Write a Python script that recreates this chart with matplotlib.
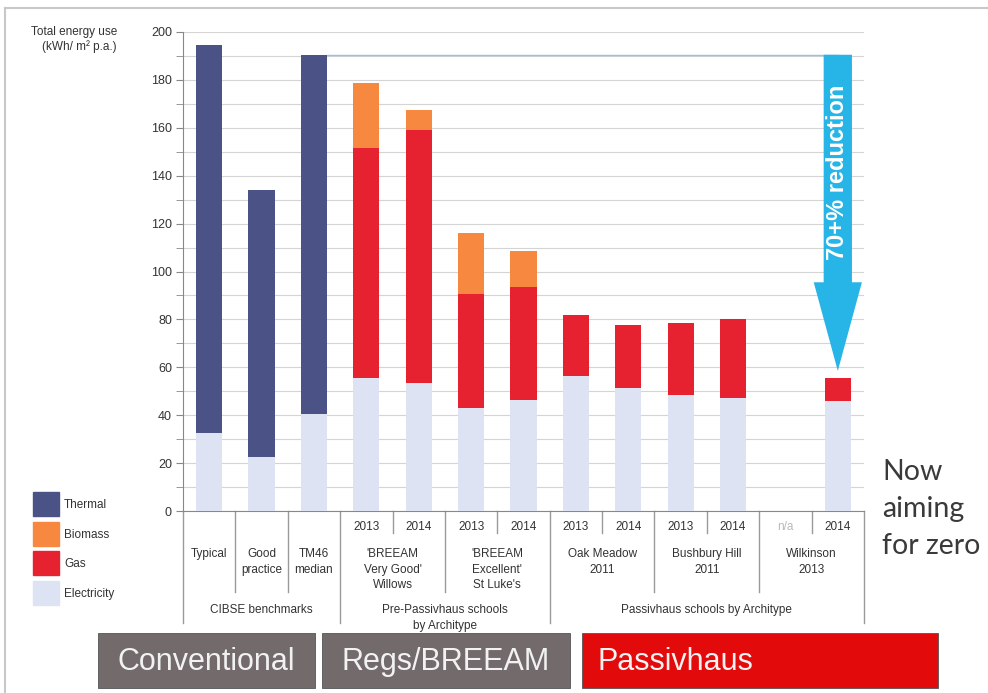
import numpy as np
import matplotlib
matplotlib.use("Agg")
import matplotlib.pyplot as plt
from matplotlib import patches
from matplotlib.transforms import blended_transform_factory

plt.rcParams["font.family"] = ["Liberation Sans", "DejaVu Sans"]

# bar slots, left to right (the n/a slot has no bar)
years = ["", "", "", "2013", "2014", "2013", "2014", "2013", "2014", "2013", "2014", "n/a", "2014"]
electricity = [32.5, 22.5, 40.5, 55.5, 53.5, 43, 46.5, 56.5, 51.5, 48.5, 47, 0, 46]
gas = [0, 0, 0, 96, 105.5, 47.5, 47, 25.5, 26, 30, 33, 0, 9.5]
biomass = [0, 0, 0, 27, 8.5, 25.5, 15, 0, 0, 0, 0, 0, 0]
thermal = [162, 111.5, 150, 0, 0, 0, 0, 0, 0, 0, 0, 0, 0]

# (label, first slot, last slot)
schools = [("Typical", 0, 0), ("Good\npractice", 1, 1), ("TM46\nmedian", 2, 2),
           ("'BREEAM\nVery Good'\nWillows", 3, 4), ("'BREEAM\nExcellent'\nSt Luke's", 5, 6),
           ("Oak Meadow\n2011", 7, 8), ("Bushbury Hill\n2011", 9, 10), ("Wilkinson\n2013", 11, 12)]
groups = [("CIBSE benchmarks", 0, 2), ("Pre-Passivhaus schools\nby Architype", 3, 6),
          ("Passivhaus schools by Architype", 7, 12)]

series = [("Thermal", "#4b5386"), ("Biomass", "#f6883f"), ("Gas", "#e62231"), ("Electricity", "#dde3f3")]

W, H = 988, 693
TXT = "#333333"


def fx(px):
    return px / W


def fy(py):
    return 1 - py / H


fig = plt.figure(figsize=(W / 100, H / 100), dpi=100)
ax = fig.add_axes([fx(183), fy(511), fx(864 - 183), (511 - 32) / H])

x = np.arange(len(years))
bw = 0.5
bottom = np.zeros(len(x))
for vals, (name, col) in zip([electricity, thermal, gas, biomass],
                             [series[3], series[0], series[2], series[1]]):
    v = np.array(vals, dtype=float)
    m = v > 0
    ax.bar(x[m], v[m], bw, bottom=bottom[m], color=col, zorder=3)
    bottom += v

ax.set_xlim(-0.5, len(x) - 0.5)
ax.set_ylim(0, 200)
ax.set_yticks(np.arange(0, 201, 20))
ax.set_yticks(np.arange(0, 201, 10), minor=True)
ax.grid(axis="y", which="both", color="#d4d4d4", lw=0.8, zorder=0)
ax.set_xticks([])
ax.tick_params(axis="y", which="both", direction="out", length=5, color="#888888",
               labelsize=9, labelcolor=TXT, pad=3)
for s in ["top", "right"]:
    ax.spines[s].set_visible(False)
ax.spines["left"].set_color("#888888")
ax.spines["bottom"].set_color("#888888")

# reference line from TM46 median and the reduction arrow
totals = bottom
tm46 = totals[2]
last = len(x) - 1
ax.plot([2 + bw / 2, last], [tm46, tm46], color="#9cc0da", lw=1, zorder=2)
tip = totals[last] + 3
arrow = patches.FancyArrow(last, tm46, 0, tip - tm46, width=0.54, head_width=0.92,
                           head_length=37, length_includes_head=True,
                           color="#27b4e7", lw=0, zorder=4)
ax.add_patch(arrow)
ax.text(last, 141.5, "70+% reduction", rotation=90, ha="center", va="center",
        color="white", fontsize=17, fontweight="bold", zorder=5)

# category table under the axis
bt = blended_transform_factory(ax.transData, fig.transFigure)
for i, yr in enumerate(years):
    if yr:
        ax.text(i, fy(527), yr, transform=bt, ha="center", va="center", fontsize=8.5,
                color="#bbbbbb" if yr == "n/a" else TXT)
for label, a, b in schools:
    ax.text((a + b) / 2, fy(548), label, transform=bt, ha="center", va="top",
            fontsize=8.5, color=TXT, linespacing=1.4)
for label, a, b in groups:
    ax.text((a + b) / 2, fy(604), label, transform=bt, ha="center", va="top",
            fontsize=8.5, color=TXT, linespacing=1.4)

div_long = [-0.5, 2.5, 6.5, 12.5]
div_mid = [0.5, 1.5, 4.5, 8.5, 10.5]
div_short = [3.5, 5.5, 7.5, 9.5, 11.5]
for xs, end in [(div_long, 623), (div_mid, 592), (div_short, 533)]:
    for d in xs:
        ax.plot([d, d], [fy(511), fy(end)], transform=bt, color="#9a9a9a", lw=1,
                clip_on=False)

# y axis title
fig.text(fx(117), fy(32), "Total energy use", ha="right", va="center", fontsize=8.5, color=TXT)
fig.text(fx(117), fy(47), "(kWh/ m\u00b2 p.a.)", ha="right", va="center", fontsize=8.5, color=TXT)

# legend
for k, (name, col) in enumerate(series):
    top = 492 + k * 29.5
    fig.patches.append(patches.Rectangle((fx(33), fy(top + 24)), fx(26), 24 / H,
                                         transform=fig.transFigure, color=col))
    fig.text(fx(64), fy(top + 13), name, ha="left", va="center", fontsize=8.5, color=TXT)

# side note
fig.text(fx(882), fy(509), "Now\naiming\nfor zero", ha="left", va="center",
         fontsize=20.5, color="#3a3a3a", family=["Lato", "DejaVu Sans"], linespacing=1.5)

# bottom banners
banners = [("Conventional", 98, 315, "#726a6b", "center"),
           ("Regs/BREEAM", 322, 570, "#726a6b", "center"),
           ("Passivhaus", 582, 938, "#e20a0a", "left")]
for label, x0, x1, col, ha in banners:
    fig.patches.append(patches.Rectangle((fx(x0), fy(688)), fx(x1 - x0), 55 / H,
                                         transform=fig.transFigure, facecolor=col,
                                         edgecolor="#555555", lw=0.6))
    tx = (x0 + x1) / 2 if ha == "center" else x0 + 15
    fig.text(fx(tx), fy(662), label, ha=ha, va="center", fontsize=22, color="#f2f2f2",
             family=["Liberation Sans Narrow", "Liberation Sans", "DejaVu Sans"])

# slide frame
fig.add_artist(plt.Line2D([fx(5), fx(5)], [fy(8), 0], color="#c8c8c8", lw=1.5))
fig.add_artist(plt.Line2D([fx(5), 1], [fy(8), fy(8)], color="#c8c8c8", lw=1.5))

fig.savefig("out.png", dpi=100)
